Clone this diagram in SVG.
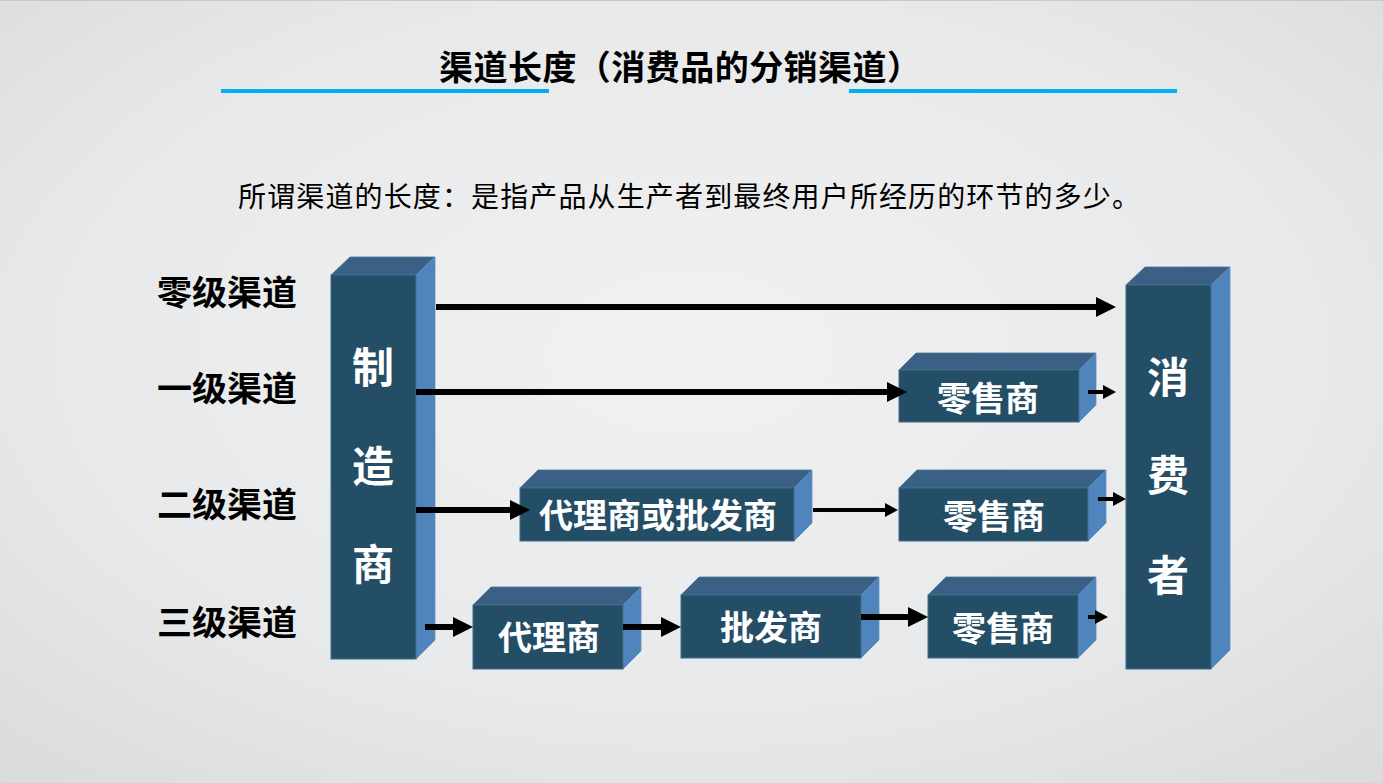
<svg xmlns="http://www.w3.org/2000/svg" width="1383" height="783" viewBox="0 0 1383 783">
<defs>
<radialGradient id="bg" cx="50%" cy="45%" r="75%">
<stop offset="0" stop-color="#F1F1F2"/>
<stop offset="0.6" stop-color="#E8E9EA"/>
<stop offset="1" stop-color="#D9DADC"/>
</radialGradient>
<marker id="ah" markerUnits="userSpaceOnUse" markerWidth="20" markerHeight="20" viewBox="0 0 20 20" refX="0" refY="10" orient="auto">
<path d="M0,0 L20,10 L0,20 Z" fill="#000"/>
</marker>
<marker id="as" markerUnits="userSpaceOnUse" markerWidth="13" markerHeight="14" viewBox="0 0 13 14" refX="0" refY="7" orient="auto">
<path d="M0,0 L13,7 L0,14 Z" fill="#000"/>
</marker>
<style>
.front{fill:#244E66;stroke:#3F6C8C;stroke-width:1}
.top{fill:#3A6185;stroke:#4A7398;stroke-width:0.8}
.side{fill:#4F84BC;stroke:#5E90C4;stroke-width:0.8}
.bt{font-family:"Noto Sans CJK SC","Noto Sans CJK JP",sans-serif;font-weight:bold;fill:#FFFFFF;text-anchor:middle}
.lbl{font-family:"Noto Sans CJK SC","Noto Sans CJK JP",sans-serif;font-weight:bold;fill:#000;font-size:34px}
.thick{stroke:#000;stroke-width:6;fill:none}
.thin{stroke:#000;stroke-width:4;fill:none}
</style>
</defs>
<rect x="0" y="0" width="1383" height="783" fill="url(#bg)"/>
<line x1="0" y1="0.5" x2="1383" y2="0.5" stroke="#C8C8C8" stroke-width="1"/>

<g id="title">
<text x="439" y="80" font-family="'Noto Sans CJK SC','Noto Sans CJK JP',sans-serif" font-weight="bold" font-size="34" fill="#000" textLength="482" lengthAdjust="spacing">渠道长度（消费品的分销渠道）</text>
<rect x="221" y="89" width="328" height="4" fill="#00B0F0"/>
<rect x="849" y="89" width="328" height="4" fill="#00B0F0"/>
</g>

<g id="subtitle">
<text x="238" y="207" font-family="'Noto Sans CJK SC','Noto Sans CJK JP',sans-serif" font-size="28" fill="#000" textLength="902" lengthAdjust="spacing">所谓渠道的长度：是指产品从生产者到最终用户所经历的环节的多少。</text>
</g>

<g id="labels">
<text class="lbl" x="157" y="305" textLength="140" lengthAdjust="spacingAndGlyphs">零级渠道</text>
<text class="lbl" x="157" y="401" textLength="140" lengthAdjust="spacingAndGlyphs">一级渠道</text>
<text class="lbl" x="157" y="517" textLength="140" lengthAdjust="spacingAndGlyphs">二级渠道</text>
<text class="lbl" x="157" y="635" textLength="140" lengthAdjust="spacingAndGlyphs">三级渠道</text>
</g>

<g id="manufacturer">
<polygon class="top" points="331,275 350,257 435,257 416,275"/>
<polygon class="side" points="416,275 435,257 435,640 416,659"/>
<rect class="front" x="331" y="275" width="85" height="384"/>
<text class="bt" x="373" y="383" font-size="42">制</text>
<text class="bt" x="373" y="482" font-size="42">造</text>
<text class="bt" x="373" y="580" font-size="42">商</text>
</g>

<g id="consumer">
<polygon class="top" points="1126,285 1145,267 1230,267 1211,285"/>
<polygon class="side" points="1211,285 1230,267 1230,650 1211,669"/>
<rect class="front" x="1126" y="285" width="85" height="384"/>
<text class="bt" x="1168" y="393" font-size="42">消</text>
<text class="bt" x="1168" y="491" font-size="42">费</text>
<text class="bt" x="1168" y="591" font-size="42">者</text>
</g>

<g id="retailer1">
<polygon class="top" points="899,370 916,353 1096,353 1079,370"/>
<polygon class="side" points="1079,370 1096,353 1096,405 1079,422"/>
<rect class="front" x="899" y="370" width="180" height="52"/>
<text class="bt" x="988" y="411" font-size="34">零售商</text>
</g>

<g id="agent-wholesaler">
<polygon class="top" points="520,488 538,470 812,470 794,488"/>
<polygon class="side" points="794,488 812,470 812,523 794,541"/>
<rect class="front" x="520" y="488" width="274" height="53"/>
<text class="bt" x="658" y="528" font-size="34">代理商或批发商</text>
</g>

<g id="retailer2">
<polygon class="top" points="899,488 917,470 1106,470 1088,488"/>
<polygon class="side" points="1088,488 1106,470 1106,523 1088,541"/>
<rect class="front" x="899" y="488" width="189" height="53"/>
<text class="bt" x="994" y="529" font-size="34">零售商</text>
</g>

<g id="agent3">
<polygon class="top" points="473,605 491,587 641,587 623,605"/>
<polygon class="side" points="623,605 641,587 641,651 623,669"/>
<rect class="front" x="473" y="605" width="150" height="64"/>
<text class="bt" x="549" y="650" font-size="34">代理商</text>
</g>

<g id="wholesaler3">
<polygon class="top" points="681,595 699,577 879,577 861,595"/>
<polygon class="side" points="861,595 879,577 879,640 861,658"/>
<rect class="front" x="681" y="595" width="180" height="63"/>
<text class="bt" x="771" y="640" font-size="34">批发商</text>
</g>

<g id="retailer3">
<polygon class="top" points="928,595 946,577 1096,577 1078,595"/>
<polygon class="side" points="1078,595 1096,577 1096,640 1078,658"/>
<rect class="front" x="928" y="595" width="150" height="63"/>
<text class="bt" x="1003" y="641" font-size="34">零售商</text>
</g>

<g id="connectors">
<line class="thick" x1="436" y1="307" x2="1096" y2="307" marker-end="url(#ah)"/>
<line class="thick" x1="416" y1="392" x2="887" y2="392" marker-end="url(#ah)"/>
<line class="thin" x1="1088" y1="392" x2="1103" y2="392" marker-end="url(#as)"/>
<line class="thick" x1="416" y1="510" x2="510" y2="510" marker-end="url(#ah)"/>
<line class="thin" x1="813" y1="510" x2="885" y2="510" marker-end="url(#as)"/>
<line class="thin" x1="1098" y1="499" x2="1113" y2="499" marker-end="url(#as)"/>
<line class="thick" x1="425" y1="627" x2="453" y2="627" marker-end="url(#ah)"/>
<line class="thick" x1="623" y1="627" x2="661" y2="627" marker-end="url(#ah)"/>
<line class="thick" x1="861" y1="617" x2="908" y2="617" marker-end="url(#ah)"/>
<line class="thin" x1="1088" y1="617" x2="1095" y2="617" marker-end="url(#as)"/>
</g>
</svg>
